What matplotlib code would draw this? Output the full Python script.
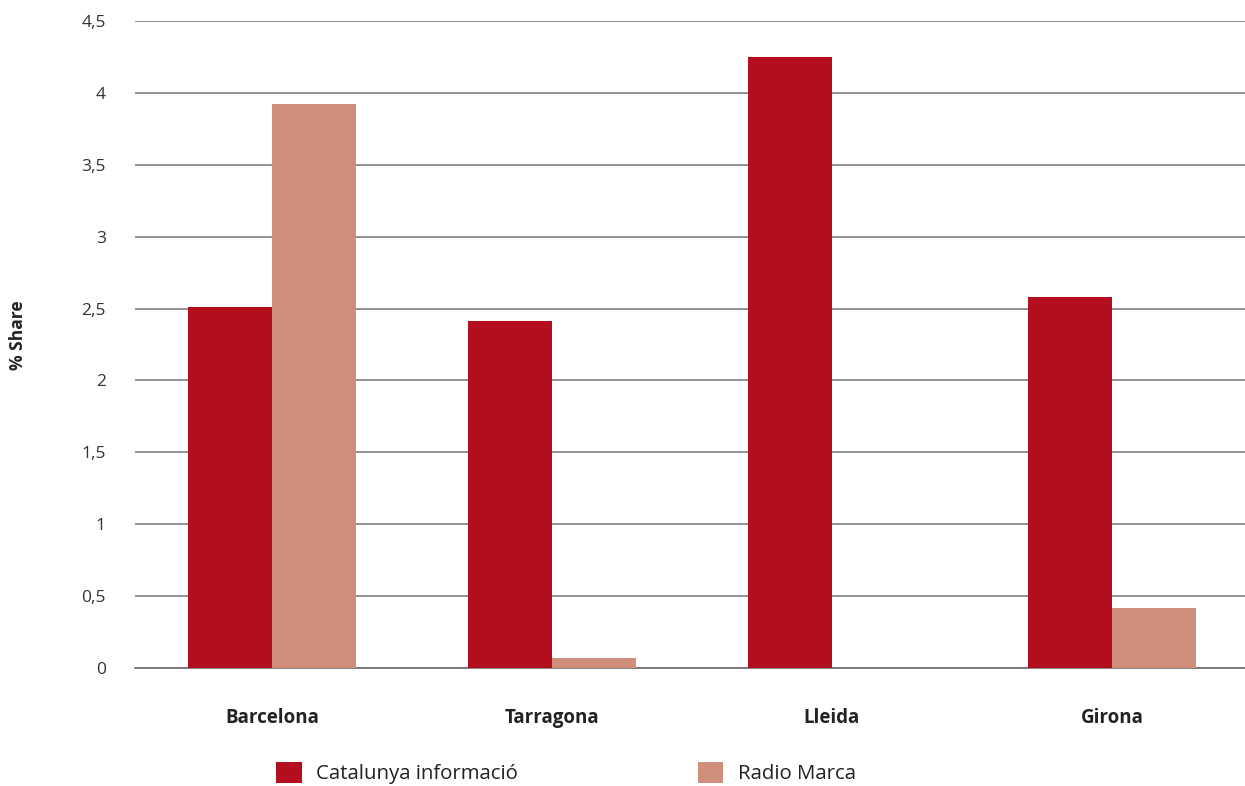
import matplotlib
matplotlib.use("Agg")
import matplotlib.pyplot as plt
import numpy as np

categories = ["Barcelona", "Tarragona", "Lleida", "Girona"]
series_names = ["Catalunya informació", "Radio Marca"]
catalunya = [2.51, 2.41, 4.25, 2.58]
radio_marca = [3.92, 0.07, 0.0, 0.42]
yticks = [0, 0.5, 1, 1.5, 2, 2.5, 3, 3.5, 4, 4.5]
ytick_labels = ["0", "0,5", "1", "1,5", "2", "2,5", "3", "3,5", "4", "4,5"]

plt.rcParams['font.family'] = ['Open Sans', 'DejaVu Sans']

fig = plt.figure(figsize=(12.45, 7.86), dpi=100)
ax = fig.add_axes([135/1245, 1-668/786, 1-135/1245, (668-21)/786])

x = np.arange(len(categories))
w = 0.3
red = "#B30E1E"
pink = "#CF8F7B"
ax.bar(x - w/2, catalunya, w, color=red, label=series_names[0], zorder=3)
ax.bar(x + w/2, radio_marca, w, color=pink, label=series_names[1], zorder=3)

ax.set_ylim(0, 4.5)
ax.set_xlim(-0.489, 3.475)
ax.set_yticks(yticks)
ax.set_yticklabels(ytick_labels, fontsize=12.5, color="#333333")
ax.yaxis.grid(True, color="#8a8a8a", linewidth=1.3, zorder=0)
ax.set_axisbelow(True)
ax.tick_params(axis='y', length=0, pad=21)
ax.tick_params(axis='x', length=0, pad=28.5)
ax.set_xticks(x)
ax.set_xticklabels(categories, fontsize=13.5, fontweight='bold', color="#222222")
for s in ['top', 'right', 'left']:
    ax.spines[s].set_visible(False)
ax.spines['bottom'].set_color("#777777")
ax.spines['bottom'].set_linewidth(1.3)

fig.text(18/1245, 1-335/786, "% Share", rotation=90, fontsize=12.5, fontweight='bold',
         ha='center', va='center', color="#222222")

fig.legend(loc='center left', bbox_to_anchor=(276/1245, 1-773/786), ncol=2, frameon=False,
           fontsize=14.7, handlelength=1.27, handleheight=1.27, handletextpad=0.69,
           columnspacing=8.8, borderpad=0, borderaxespad=0, labelcolor="#222222")

fig.savefig("out.png", dpi=100)
